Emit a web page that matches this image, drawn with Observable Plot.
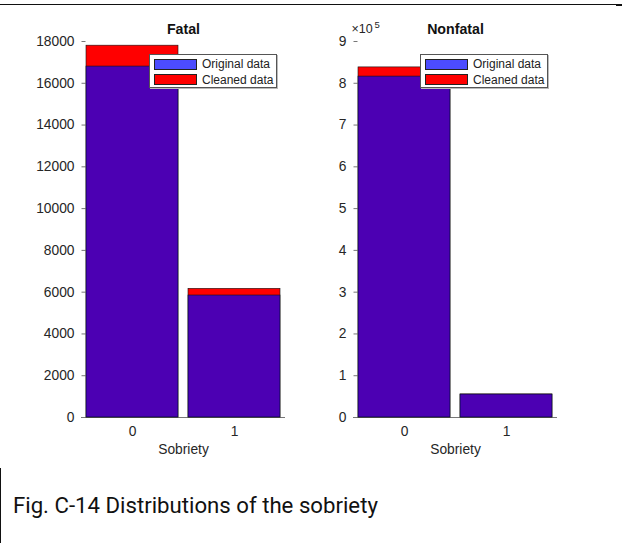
<!DOCTYPE html>
<html>
<head>
<meta charset="utf-8">
<script src="https://cdn.jsdelivr.net/npm/d3@7"></script>
<script src="https://cdn.jsdelivr.net/npm/@observablehq/plot@0.6"></script>
<style>
  html, body { margin: 0; padding: 0; background: #fff; }
  #page { position: relative; width: 622px; height: 543px; overflow: hidden; background: #fff; }
  .rule-top { position: absolute; left: 0; top: 4px; width: 616px; height: 0; border-top: 1.2px solid #111; }
  .rule-top-end { position: absolute; left: 616px; top: 4px; width: 6px; height: 2px; background: #111; }
  .panel { position: absolute; top: 0; }
  .legend { position: absolute; background: #fff; border: 1px solid #555; box-shadow: 1px 1px 0 #bbb;
            font: 12px "Liberation Sans", Arial, sans-serif; color: #222; box-sizing: border-box; }
  .legend .row { position: absolute; left: 4px; height: 12px; display: flex; align-items: center; }
  .legend .sw { width: 43px; height: 11px; border: 1px solid #222; box-sizing: border-box; margin-right: 5px; }
  .caption { position: absolute; left: 0; top: 468px; width: 622px; height: 75px; border-left: 1.5px solid #111; box-sizing: border-box; }
  .caption span { position: absolute; left: 12px; top: 24px; font: 22.2px Roboto, "Noto Sans", sans-serif; color: #111; white-space: nowrap; }
</style>
</head>
<body>
<div id="page">
  <div class="rule-top"></div>
  <div class="rule-top-end"></div>
  <div class="panel" id="fatal" style="left:0"></div>
  <div class="panel" id="nonfatal" style="left:311px"></div>
  <div class="caption"><span>Fig. C-14 Distributions of the sobriety</span></div>
</div>
<script>
// Sobriety categories on the x axis
const sobriety = ["0", "1"];

// Fatal crashes: counts per sobriety value
const fatalOriginal = [16800, 5840];
const fatalCleaned = [17800, 6160];
const fatalTicks = [0, 2000, 4000, 6000, 8000, 10000, 12000, 14000, 16000, 18000];

// Nonfatal crashes: counts per sobriety value
const nonfatalOriginal = [816000, 55000];
const nonfatalCleaned = [838000, 55200];
const nonfatalTicks = [0, 100000, 200000, 300000, 400000, 500000, 600000, 700000, 800000, 900000];

const seriesNames = ["Original data", "Cleaned data"];
const originalFill = "#0000ff";
const originalOpacity = 0.7;
const cleanedFill = "#ff0000";

const FONT = '"Liberation Sans", Arial, Helvetica, sans-serif';

// short tick pointing into the plot area from the left axis
const inwardTick = {draw(context) { context.moveTo(0, 0); context.lineTo(4, 0); }};

function panel({title, original, cleaned, ticks, yMax, tickFormat, exponent, margin}) {
  const rowsOriginal = sobriety.map((s, i) => ({sobriety: s, count: original[i]}));
  const rowsCleaned = sobriety.map((s, i) => ({sobriety: s, count: cleaned[i]}));
  const marks = [
    // gray axis lines
    Plot.ruleY([0], {stroke: "#777", strokeWidth: 1}),
    Plot.ruleX([0], {frameAnchor: "left", stroke: "#777", strokeWidth: 1}),
    // inward tick marks on the y axis
    Plot.dot(ticks, {y: d => d, frameAnchor: "left", symbol: inwardTick, stroke: "#777", strokeWidth: 1, fill: "none"}),
    // tick labels
    Plot.axisY(ticks, {tickSize: 0, tickPadding: 7, tickFormat, label: null, fontSize: 13.8, fill: "#262626"}),
    Plot.axisX({tickSize: 0, tickPadding: 9, fontSize: 13.8, fill: "#262626",
      label: "Sobriety", labelAnchor: "center", labelArrow: "none", labelOffset: 36}),
    // cleaned data drawn first, original overlaid with transparency
    Plot.barY(rowsCleaned, {x: "sobriety", y: "count", fill: cleanedFill, stroke: "#111", strokeWidth: 0.6}),
    Plot.barY(rowsOriginal, {x: "sobriety", y: "count", fill: originalFill, fillOpacity: originalOpacity,
      stroke: "#111", strokeWidth: 0.6}),
    Plot.text([title], {frameAnchor: "top", dy: -18, fontWeight: "bold", fontSize: 14.2, fill: "#111"})
  ];
  if (exponent) {
    // scale factor label: "×10" with a raised exponent
    marks.push(Plot.text(["×10"], {frameAnchor: "top-left", dx: -2, dy: -17, textAnchor: "start",
      fontSize: 12.5, fill: "#262626"}));
    marks.push(Plot.text([exponent], {frameAnchor: "top-left", dx: 21, dy: -20, textAnchor: "start",
      fontSize: 9.5, fill: "#262626"}));
  }
  return Plot.plot({
    width: 311,
    height: 460,
    marginLeft: margin.left,
    marginRight: margin.right,
    marginTop: 41,
    marginBottom: 43,
    style: {fontFamily: FONT, background: "transparent", overflow: "visible"},
    x: {type: "band", domain: sobriety, paddingInner: 0.1, paddingOuter: 0.05, label: "Sobriety"},
    y: {domain: [0, yMax], label: null},
    marks
  });
}

function legend(left, top) {
  const el = document.createElement("div");
  el.className = "legend";
  el.style.left = left + "px";
  el.style.top = top + "px";
  el.style.width = "128px";
  el.style.height = "34px";
  const fills = [d3.color(originalFill).copy({opacity: originalOpacity}).toString(), cleanedFill];
  seriesNames.forEach((name, i) => {
    const row = document.createElement("div");
    row.className = "row";
    row.style.top = (3 + i * 15.5) + "px";
    const sw = document.createElement("div");
    sw.className = "sw";
    sw.style.background = fills[i];
    const label = document.createElement("span");
    label.textContent = name;
    row.appendChild(sw);
    row.appendChild(label);
    el.appendChild(row);
  });
  return el;
}

document.getElementById("fatal").appendChild(panel({
  title: "Fatal", original: fatalOriginal, cleaned: fatalCleaned, ticks: fatalTicks, yMax: 18000,
  tickFormat: d => String(d), margin: {left: 81, right: 26}
}));
document.getElementById("nonfatal").appendChild(panel({
  title: "Nonfatal", original: nonfatalOriginal, cleaned: nonfatalCleaned, ticks: nonfatalTicks, yMax: 900000,
  tickFormat: d => String(d / 1e5), exponent: "5", margin: {left: 42, right: 65}
}));

const page = document.getElementById("page");
page.appendChild(legend(149, 54));
page.appendChild(legend(420, 54));
</script>
</body>
</html>
